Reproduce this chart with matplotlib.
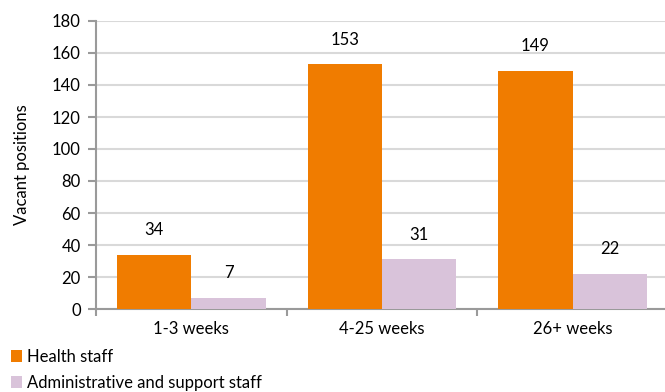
import numpy as np
import matplotlib
matplotlib.use('Agg')
import matplotlib.pyplot as plt

# --- DATA ---
categories = ['1-3 weeks', '4-25 weeks', '26+ weeks']
health_staff = [34, 153, 149]
admin_staff = [7, 31, 22]
series_names = ['Health staff', 'Administrative and support staff']
y_ticks = [0, 20, 40, 60, 80, 100, 120, 140, 160, 180]

ORANGE = '#F07C00'
LILAC = '#D9C3DA'
GRID = '#D9D9D9'
AXIS = '#9A9A9A'
FS = 12

plt.rcParams['font.family'] = ['Lato', 'DejaVu Sans']

fig = plt.figure(figsize=(6.65, 3.92), dpi=100)
# axes runs slightly past the right edge, like the cropped original
ax = fig.add_axes([96 / 665, 83 / 392, 572 / 665, 288 / 392])

x = np.arange(len(categories))
bw = 0.39
bars_h = ax.bar(x - bw / 2, health_staff, bw, color=ORANGE, zorder=3, label=series_names[0])
bars_a = ax.bar(x + bw / 2, admin_staff, bw, color=LILAC, zorder=3, label=series_names[1])

for bars, vals in ((bars_h, health_staff), (bars_a, admin_staff)):
    for b, v in zip(bars, vals):
        ax.annotate(str(v), (b.get_x() + b.get_width() / 2, v),
                    xytext=(0, 17.5), textcoords='offset points',
                    ha='center', va='center', fontsize=FS, color='black')

ax.set_xlim(-0.5, 2.5)
ax.set_ylim(0, 180)
ax.set_yticks(y_ticks)
ax.yaxis.grid(True, color=GRID, linewidth=1.5, zorder=0)
ax.set_axisbelow(True)

# category boundary ticks on x
ax.set_xticks([-0.5, 0.5, 1.5, 2.5])
ax.set_xticklabels([])
ax.set_xticks(x, minor=True)
ax.set_xticklabels(categories, minor=True, fontsize=FS)
ax.tick_params(axis='x', which='minor', length=0, pad=9)
ax.tick_params(axis='x', which='major', length=5, width=1.5, color=AXIS, direction='out')
ax.tick_params(axis='y', length=6, width=1.5, color=AXIS, direction='out', labelsize=FS, pad=5)

for s in ('top', 'right'):
    ax.spines[s].set_visible(False)
for s in ('left', 'bottom'):
    ax.spines[s].set_color(AXIS)
    ax.spines[s].set_linewidth(1.5)

ax.set_ylabel('Vacant positions', fontsize=FS, labelpad=16)

ax.legend(loc='upper left', bbox_to_anchor=(4 / 665, 50 / 392), bbox_transform=fig.transFigure,
          frameon=False, fontsize=FS, handlelength=0.7, handleheight=0.7,
          handletextpad=0.3, labelspacing=0.6, borderaxespad=0)

# title cut off at the top of the original, only descenders visible
fig.text(4 / 665, 1.0 + 3.5 / 392, 'Figure 5: Vacancies, by length of time vacant, 2013',
         color='#B0402C', fontsize=14, ha='left', va='baseline')

fig.savefig('out.png', dpi=100)
